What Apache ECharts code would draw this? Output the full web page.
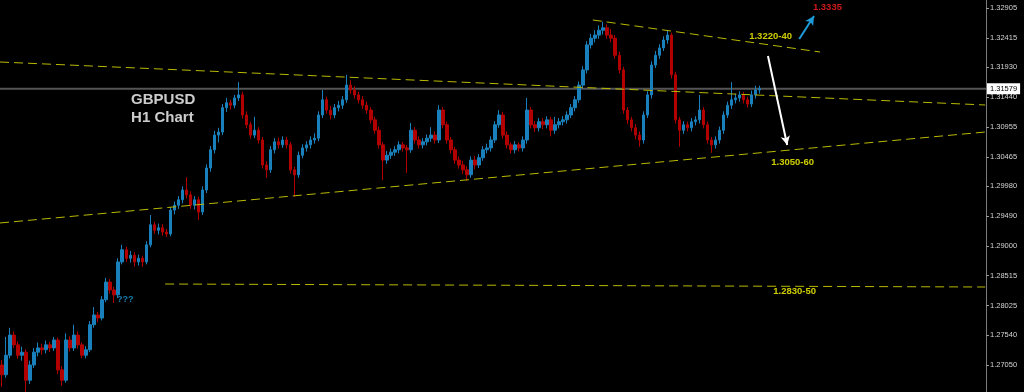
<!DOCTYPE html>
<html><head><meta charset="utf-8">
<script src="https://cdn.jsdelivr.net/npm/echarts@6/dist/echarts.min.js"></script>
<style>html,body{margin:0;padding:0;background:#000}#c{width:1024px;height:392px}</style>
</head><body><div id="c"></div>
<script>
// ---- DATA ----
const slotCount = 246; // hourly slots on the time axis (incl. empty future space)
const hours = Array.from({length: slotCount}, (_, i) => 'H' + i);
// [open, close, low, high]
const ohlc = [
[1.2705,1.2689,1.2669,1.2713],[1.2689,1.2721,1.2684,1.2751],[1.2721,1.2754,1.2716,1.2766],[1.2754,1.2738,1.2733,1.2760],
[1.2738,1.2721,1.2715,1.2744],[1.2721,1.2726,1.2712,1.2735],[1.2726,1.2680,1.2661,1.2731],[1.2680,1.2705,1.2674,1.2712],
[1.2705,1.2726,1.2700,1.2733],[1.2726,1.2733,1.2719,1.2742],[1.2733,1.2730,1.2722,1.2740],[1.2730,1.2738,1.2724,1.2745],
[1.2738,1.2733,1.2726,1.2743],[1.2733,1.2746,1.2728,1.2751],[1.2746,1.2697,1.2690,1.2750],[1.2697,1.2680,1.2671,1.2703],
[1.2680,1.2746,1.2676,1.2757],[1.2746,1.2733,1.2727,1.2752],[1.2733,1.2754,1.2728,1.2771],[1.2754,1.2738,1.2732,1.2760],
[1.2738,1.2721,1.2716,1.2742],[1.2721,1.2730,1.2716,1.2736],[1.2730,1.2771,1.2726,1.2777],[1.2771,1.2787,1.2766,1.2800],
[1.2787,1.2782,1.2775,1.2792],[1.2782,1.2812,1.2778,1.2818],[1.2812,1.2841,1.2808,1.2848],[1.2841,1.2828,1.2822,1.2846],
[1.2828,1.2820,1.2807,1.2833],[1.2820,1.2874,1.2815,1.2880],[1.2874,1.2894,1.2870,1.2902],[1.2894,1.2880,1.2874,1.2899],
[1.2880,1.2885,1.2873,1.2892],[1.2885,1.2874,1.2866,1.2890],[1.2874,1.2880,1.2868,1.2886],[1.2880,1.2874,1.2866,1.2884],
[1.2874,1.2902,1.2870,1.2908],[1.2902,1.2935,1.2898,1.2951],[1.2935,1.2926,1.2920,1.2940],[1.2926,1.2930,1.2919,1.2937],
[1.2930,1.2923,1.2917,1.2936],[1.2923,1.2920,1.2915,1.2928],[1.2920,1.2959,1.2916,1.2964],[1.2959,1.2967,1.2952,1.2973],
[1.2967,1.2976,1.2961,1.2982],[1.2976,1.2992,1.2970,1.2998],[1.2992,1.2984,1.2978,1.3013],[1.2984,1.2967,1.2961,1.2990],
[1.2967,1.2976,1.2960,1.2982],[1.2976,1.2956,1.2943,1.2981],[1.2956,1.2992,1.2951,1.2998],[1.2992,1.3028,1.2987,1.3034],
[1.3028,1.3058,1.3022,1.3064],[1.3058,1.3082,1.3052,1.3089],[1.3082,1.3087,1.3070,1.3094],[1.3087,1.3127,1.3082,1.3133],
[1.3127,1.3135,1.3120,1.3143],[1.3135,1.3131,1.3124,1.3140],[1.3131,1.3143,1.3126,1.3148],[1.3143,1.3148,1.3138,1.3169],
[1.3148,1.3115,1.3109,1.3153],[1.3115,1.3099,1.3093,1.3121],[1.3099,1.3082,1.3076,1.3104],[1.3082,1.3090,1.3077,1.3112],
[1.3090,1.3074,1.3068,1.3095],[1.3074,1.3033,1.3027,1.3079],[1.3033,1.3025,1.3012,1.3039],[1.3025,1.3058,1.3020,1.3064],
[1.3058,1.3071,1.3052,1.3077],[1.3071,1.3066,1.3060,1.3078],[1.3066,1.3074,1.3061,1.3080],[1.3074,1.3066,1.3060,1.3079],
[1.3066,1.3025,1.3019,1.3071],[1.3025,1.3017,1.2981,1.3030],[1.3017,1.3049,1.3012,1.3055],[1.3049,1.3061,1.3044,1.3067],
[1.3061,1.3066,1.3055,1.3072],[1.3066,1.3074,1.3060,1.3080],[1.3074,1.3077,1.3068,1.3085],[1.3077,1.3115,1.3072,1.3121],
[1.3115,1.3140,1.3110,1.3156],[1.3140,1.3123,1.3117,1.3145],[1.3123,1.3115,1.3108,1.3130],[1.3115,1.3127,1.3110,1.3133],
[1.3127,1.3131,1.3121,1.3138],[1.3131,1.3140,1.3125,1.3146],[1.3140,1.3164,1.3135,1.3181],[1.3164,1.3156,1.3150,1.3172],
[1.3156,1.3148,1.3142,1.3162],[1.3148,1.3140,1.3134,1.3153],[1.3140,1.3131,1.3125,1.3146],[1.3131,1.3123,1.3117,1.3137],
[1.3123,1.3107,1.3101,1.3128],[1.3107,1.3090,1.3084,1.3112],[1.3090,1.3066,1.3060,1.3096],[1.3066,1.3041,1.3008,1.3071],
[1.3041,1.3049,1.3035,1.3056],[1.3049,1.3054,1.3043,1.3060],[1.3054,1.3058,1.3048,1.3064],[1.3058,1.3066,1.3052,1.3072],
[1.3066,1.3061,1.3055,1.3071],[1.3061,1.3058,1.3020,1.3066],[1.3058,1.3090,1.3053,1.3102],[1.3090,1.3074,1.3068,1.3095],
[1.3074,1.3066,1.3060,1.3080],[1.3066,1.3071,1.3060,1.3077],[1.3071,1.3077,1.3065,1.3083],[1.3077,1.3082,1.3071,1.3095],
[1.3082,1.3074,1.3068,1.3088],[1.3074,1.3123,1.3069,1.3131],[1.3123,1.3099,1.3093,1.3128],[1.3099,1.3074,1.3068,1.3104],
[1.3074,1.3058,1.3052,1.3079],[1.3058,1.3041,1.3035,1.3063],[1.3041,1.3033,1.3027,1.3047],[1.3033,1.3025,1.3018,1.3040],
[1.3025,1.3017,1.3007,1.3031],[1.3017,1.3041,1.3012,1.3047],[1.3041,1.3033,1.3026,1.3048],[1.3033,1.3045,1.3028,1.3051],
[1.3045,1.3058,1.3040,1.3064],[1.3058,1.3061,1.3052,1.3068],[1.3061,1.3074,1.3055,1.3080],[1.3074,1.3099,1.3069,1.3105],
[1.3099,1.3115,1.3094,1.3123],[1.3115,1.3082,1.3076,1.3120],[1.3082,1.3066,1.3060,1.3088],[1.3066,1.3058,1.3052,1.3070],
[1.3058,1.3066,1.3052,1.3072],[1.3066,1.3061,1.3055,1.3070],[1.3061,1.3074,1.3055,1.3080],[1.3074,1.3123,1.3068,1.3143],
[1.3123,1.3099,1.3093,1.3128],[1.3099,1.3094,1.3087,1.3105],[1.3094,1.3104,1.3088,1.3110],[1.3104,1.3099,1.3092,1.3110],
[1.3099,1.3107,1.3093,1.3113],[1.3107,1.3090,1.3080,1.3112],[1.3090,1.3099,1.3084,1.3112],[1.3099,1.3104,1.3093,1.3110],
[1.3104,1.3107,1.3098,1.3113],[1.3107,1.3115,1.3101,1.3121],[1.3115,1.3127,1.3110,1.3133],[1.3127,1.3140,1.3121,1.3146],
[1.3140,1.3164,1.3135,1.3170],[1.3164,1.3189,1.3158,1.3195],[1.3189,1.3230,1.3183,1.3236],[1.3230,1.3241,1.3224,1.3248],
[1.3241,1.3246,1.3234,1.3254],[1.3246,1.3254,1.3240,1.3262],[1.3254,1.3258,1.3247,1.3268],[1.3258,1.3246,1.3240,1.3264],
[1.3246,1.3241,1.3234,1.3256],[1.3241,1.3213,1.3207,1.3246],[1.3213,1.3189,1.3183,1.3219],[1.3189,1.3123,1.3117,1.3194],
[1.3123,1.3107,1.3100,1.3128],[1.3107,1.3094,1.3088,1.3112],[1.3094,1.3082,1.3075,1.3100],[1.3082,1.3074,1.3063,1.3088],
[1.3074,1.3115,1.3068,1.3121],[1.3115,1.3148,1.3110,1.3154],[1.3148,1.3197,1.3142,1.3203],[1.3197,1.3213,1.3192,1.3220],
[1.3213,1.3225,1.3207,1.3231],[1.3225,1.3238,1.3220,1.3244],[1.3238,1.3246,1.3232,1.3254],[1.3246,1.3181,1.3175,1.3250],
[1.3181,1.3107,1.3101,1.3186],[1.3107,1.3090,1.3063,1.3112],[1.3090,1.3099,1.3084,1.3105],[1.3099,1.3094,1.3088,1.3104],
[1.3094,1.3104,1.3088,1.3110],[1.3104,1.3107,1.3098,1.3113],[1.3107,1.3123,1.3101,1.3148],[1.3123,1.3099,1.3093,1.3128],
[1.3099,1.3074,1.3068,1.3104],[1.3074,1.3066,1.3053,1.3079],[1.3066,1.3074,1.3060,1.3080],[1.3074,1.3090,1.3068,1.3096],
[1.3090,1.3115,1.3084,1.3121],[1.3115,1.3131,1.3110,1.3137],[1.3131,1.3140,1.3125,1.3169],[1.3140,1.3143,1.3134,1.3150],
[1.3143,1.3148,1.3137,1.3154],[1.3148,1.3140,1.3134,1.3153],[1.3140,1.3133,1.3127,1.3145],[1.3133,1.3148,1.3128,1.3155],
[1.3148,1.3156,1.3142,1.3163],[1.3156,1.3158,1.3150,1.3163]
];
const bidPrice = 1.31579;
const priceTicks = [1.27050,1.27540,1.28025,1.28515,1.29000,1.29490,1.29980,1.30465,1.30955,1.31440,1.31930,1.32415,1.32905];
const priceMin = 1.26607, priceMax = 1.33036;
// trendlines in [slot, price] space: [x1, p1, x2, p2]
const trendLines = [
  [0, 1.32019, 245.8, 1.31314],
  [0, 1.29379, 245.8, 1.30871],
  [147.9, 1.32708, 204.6, 1.32183],
  [41.2, 1.28378, 245.8, 1.28329]
];
// arrows: [x1, p1, x2, p2, color]
const arrows = [
  [191.6, 1.32118, 196.4, 1.30658, '#ffffff'],
  [199.4, 1.32396, 203.1, 1.32774, '#1e9bd8']
];
// text notes: [x, price, text, color, size]
const notes = [
  [32.7, 1.31396, 'GBPUSD', '#ffffff', 15],
  [32.7, 1.31101, 'H1 Chart', '#ffffff', 15],
  [29.2, 1.28116, '???', '#1e9bd8', 9],
  [186.9, 1.32446, '1.3220-40', '#ffff00', 9.5],
  [192.4, 1.30379, '1.3050-60', '#ffff00', 9.5],
  [192.9, 1.28264, '1.2830-50', '#ffff00', 9.5],
  [202.8, 1.32921, '1.3335', '#ff2020', 9.5]
];

// ---- CHART ----
const chart = echarts.init(document.getElementById('c'), null, {renderer: 'canvas'});
const series = [];
// bid line with its price tag
series.push({
  type: 'line', xAxisIndex: 1, yAxisIndex: 0, silent: true, showSymbol: false, z: 1,
  data: [[0, bidPrice], [slotCount, bidPrice]],
  lineStyle: {color: '#555555', width: 2},
  endLabel: {show: true, distance: 1, formatter: bidPrice.toFixed(5),
    backgroundColor: '#ffffff', color: '#000', padding: [2, 3, 1, 3], fontSize: 7.5, fontFamily: 'Liberation Sans'}
});
series.push({
  type: 'candlestick',
  xAxisIndex: 0, yAxisIndex: 0, z: 2,
  data: ohlc,
  barWidth: 3,
  itemStyle: {color: '#1a80bb', color0: '#b20000', borderColor: '#1a80bb', borderColor0: '#b20000', borderWidth: 1}
});
trendLines.forEach(t => series.push({
  type: 'line', xAxisIndex: 1, yAxisIndex: 0, silent: true, showSymbol: false, z: 3,
  data: [[t[0], t[1]], [t[2], t[3]]],
  lineStyle: {color: '#b9b900', width: 1, type: [9, 5]}
}));
arrows.forEach(a => series.push({
  type: 'line', xAxisIndex: 1, yAxisIndex: 0, silent: true, showSymbol: false, z: 4,
  data: [],
  markLine: {silent: true, symbol: ['none', 'arrow'], symbolSize: [7, 9],
    lineStyle: {color: a[4], width: 2, type: 'solid'}, label: {show: false},
    data: [[{coord: [a[0], a[1]]}, {coord: [a[2], a[3]]}]]}
}));
series.push({
  type: 'scatter', xAxisIndex: 1, yAxisIndex: 0, silent: true, z: 5,
  symbolSize: 0.1, itemStyle: {color: 'rgba(0,0,0,0)'},
  data: notes.map(n => ({value: [n[0], n[1]], label: {show: true, position: 'right', distance: 0,
    formatter: n[2], color: n[3], fontSize: n[4], fontWeight: 'bold', fontFamily: 'Liberation Sans'}}))
});

chart.setOption({
  backgroundColor: '#000',
  animation: false,
  grid: {left: 0, right: 38, top: 0, bottom: 0},
  xAxis: [
    {type: 'category', data: hours, boundaryGap: true, show: false},
    {type: 'value', min: 0, max: slotCount, show: false}
  ],
  yAxis: [{
    type: 'value', position: 'right', min: priceMin, max: priceMax,
    splitLine: {show: false},
    axisLine: {show: true, onZero: false, lineStyle: {color: '#7a7a7a', width: 1}},
    axisTick: {show: true, inside: false, length: 3, customValues: priceTicks, lineStyle: {color: '#9a9a9a'}},
    axisLabel: {show: true, customValues: priceTicks, margin: 4, color: '#d4d4d4', fontSize: 7.5,
      fontFamily: 'Liberation Sans', formatter: v => v.toFixed(5)}
  }],
  series: series
});
</script></body></html>
